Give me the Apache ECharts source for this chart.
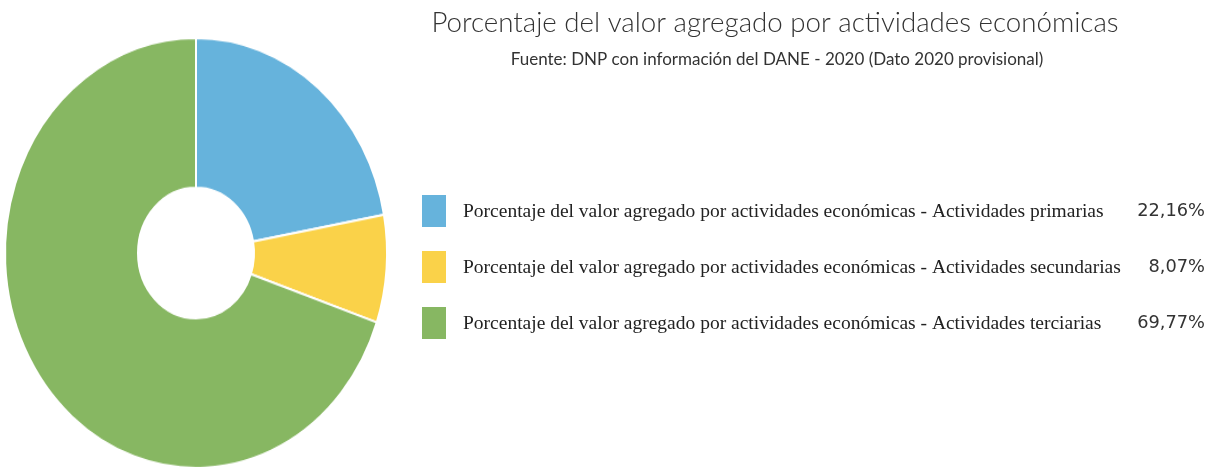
<!DOCTYPE html>
<html>
<head>
<meta charset="utf-8">
<script src="https://cdn.jsdelivr.net/npm/echarts@6/dist/echarts.min.js"></script>
<style>
html,body{margin:0;padding:0;background:#fff;}
#wrap{position:relative;width:1209px;height:471px;overflow:hidden;}
#main{position:absolute;left:0;top:0;width:1209px;height:471px;}
#pie{position:absolute;left:0;top:0;width:400px;height:471px;transform-origin:196px 253px;transform:scaleY(1.1257);}
</style>
</head>
<body>
<div id="wrap"><div id="main"></div><div id="pie"></div></div>
<script>
const titleText = 'Porcentaje del valor agregado por actividades económicas';
const subtitleText = 'Fuente: DNP con información del DANE - 2020 (Dato 2020 provisional)';
const categories = [
  'Porcentaje del valor agregado por actividades económicas - Actividades primarias',
  'Porcentaje del valor agregado por actividades económicas - Actividades secundarias',
  'Porcentaje del valor agregado por actividades económicas - Actividades terciarias'
];
const values = [22.16, 8.07, 69.77];
const valueLabels = ['22,16%', '8,07%', '69,77%'];
const colors = ['#66b3dc', '#fad249', '#87b762'];

const main = echarts.init(document.getElementById('main'));
const graphics = [];
categories.forEach((name, i) => {
  const cy = 211 + i * 56;
  graphics.push({type:'rect', left:422, top:cy-16, shape:{width:24, height:32}, style:{fill:colors[i]}});
  graphics.push({type:'text', x:463, y:cy+1, style:{text:name, font:'19.5px "Liberation Serif"', fill:'#222', align:'left', verticalAlign:'middle'}});
  graphics.push({type:'text', x:1205, y:cy, style:{text:valueLabels[i], font:'17.8px "DejaVu Sans"', fill:'#333', align:'right', verticalAlign:'middle'}});
});
main.setOption({
  animation:false,
  graphic:graphics.concat([
    {type:'text', x:775, y:23, style:{text:titleText, font:'300 27.7px Lato', fill:'#333', align:'center', verticalAlign:'middle'}},
    {type:'text', x:777, y:60, style:{text:subtitleText, font:'17px Lato', fill:'#333', align:'center', verticalAlign:'middle'}}
  ])
});

const pie = echarts.init(document.getElementById('pie'));
pie.setOption({
  animation:false,
  color:colors,
  series:[{
    type:'pie', center:[196,253], radius:[58,191], startAngle:90, clockwise:true,
    label:{show:false}, labelLine:{show:false}, silent:true,
    itemStyle:{borderColor:'#fff', borderWidth:2},
    data:categories.map((n,i)=>({name:n, value:values[i]}))
  }]
});
</script>
</body>
</html>
